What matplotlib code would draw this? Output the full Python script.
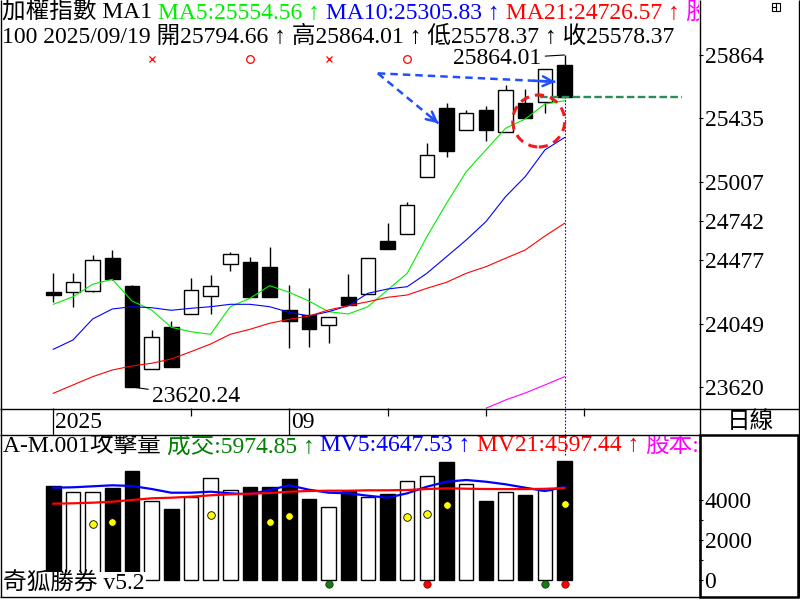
import matplotlib
matplotlib.use('Agg')
import matplotlib.pyplot as plt
from matplotlib.patches import Ellipse, Rectangle
import numpy as np

FONTS = ['Liberation Serif', 'Noto Sans CJK TC']
plt.rcParams['font.family'] = FONTS

# ---------------- data ----------------
opens = [24258.9, 24264.3, 24271.0, 24490.0, 24302.8, 23739.9, 24023.7, 24111.5, 24237.2,
         24449.4, 24465.0, 24431.2, 24140.6, 24104.8, 24037.2, 24226.4, 24246.7, 24606.9,
         24652.1, 25037.4, 25503.6, 25355.0, 25492.2, 25341.5, 25539.5, 25544.2, 25794.66]
highs = [24388.6, 24388.6, 24512.3, 24546.1, 24310.0, 24005.4, 24066.3, 24356.9, 24377.1,
         24532.6, 24496.7, 24564.3, 24309.5, 24287.2, 24095.3, 24381.8, 24490.0, 24730.5,
         24872.5, 25267.1, 25541.5, 25492.2, 25519.2, 25659.1, 25632.1, 25767.2, 25864.01]
lows = [24196.7, 24162.9, 24260.2, 24343.3, 23620.24, 23739.9, 23757.4, 24111.5, 24111.5,
        24406.2, 24230.5, 24230.5, 23881.8, 23888.5, 23919.6, 24174.4, 24246.7, 24550.8,
        24652.1, 25037.4, 25176.6, 25355.0, 25284.7, 25341.5, 25440.1, 25474.0, 25578.37]
closes = [24238.6, 24327.8, 24478.5, 24350.1, 23620.24, 23956.1, 23757.4, 24275.8, 24302.8,
          24517.0, 24230.5, 24230.5, 24068.3, 24014.2, 24091.2, 24174.4, 24490.0, 24550.8,
          24848.1, 25186.0, 25217.1, 25469.9, 25357.0, 25625.3, 25440.1, 25767.2, 25578.37]
ma5 = [24179.1, 24230.5, 24314.3, 24348.1, 24201.4, 24140.6, 24023.7, 23993.9, 23976.4,
       24162.9, 24219.7, 24304.8, 24260.2, 24201.4, 24129.1, 24113.6, 24162.9, 24275.8,
       24388.6, 24636.0, 24861.7, 25075.2, 25221.9, 25368.5, 25431.3, 25532.7, 25554.56]
ma10 = [23875.0, 23937.9, 24079.8, 24147.4, 24162.9, 24156.1, 24138.6, 24152.1, 24162.9,
        24179.1, 24179.1, 24162.9, 24125.1, 24100.0, 24129.1, 24169.7, 24253.5, 24282.5,
        24298.1, 24388.6, 24500.8, 24613.7, 24737.3, 24906.3, 25041.4, 25221.9, 25305.83]
ma21 = [23577.6, 23633.8, 23689.8, 23735.1, 23762.2, 23780.4, 23809.5, 23858.8, 23910.8,
        23976.4, 24010.2, 24050.7, 24077.8, 24100.0, 24140.6, 24169.7, 24196.7, 24226.4,
        24242.0, 24287.3, 24327.8, 24388.6, 24433.2, 24490.0, 24546.0, 24640.0, 24726.57]
cap_line = [np.nan] * 22 + [23476.3, 23532.4, 23579.7, 23633.8, 23689.8]

volumes = [4700, 4385, 4385, 4600, 5450, 3965, 3550, 4135, 5100, 4485, 4665, 4665, 5050,
           4050, 3635, 4435, 4135, 4315, 4935, 5200, 5900, 4785, 3950, 4385, 4250, 4500, 5974.85]
mv5 = [4615, 4635, 4685, 4735, 4700, 4550, 4365, 4365, 4415, 4335, 4285, 4500, 4735, 4515,
       4365, 4335, 4215, 4115, 4335, 4665, 4915, 5000, 4915, 4785, 4615, 4450, 4647.53]
mv21 = [3815, 3835, 3865, 3915, 4000, 4085, 4115, 4165, 4235, 4285, 4315, 4350, 4415, 4450,
        4465, 4465, 4485, 4485, 4500, 4550, 4585, 4565, 4550, 4545, 4545, 4560, 4597.44]

yellow_idx = [2, 3, 8, 11, 12, 18, 19, 20, 26]
yellow_val = [2815, 2900, 3250, 2900, 3215, 3165, 3315, 3750, 3800]
green_dot_idx = [14, 25]
red_dot_idx = [19, 26]
dot_level = -200

sig_idx = [5, 10, 14, 18]
sig_mark = ['x', 'o', 'x', 'o']
sig_level = 25837

price_ticks = [25864, 25435, 25007, 24742, 24477, 24049, 23620]
vol_ticks = [0, 2000, 4000]
vol_minor = [1000, 3000]
date_major_idx = [0, 12]
date_major_lab = ['2025', '09']
date_minor_idx = [7, 17, 22, 27]

n = len(closes)
idx = np.arange(n)
XLIM = (-2.711, 32.84)

fig = plt.figure(figsize=(8, 6), dpi=100)
fig.patch.set_facecolor('white')

ax = fig.add_axes([0, 192 / 600, 699 / 800, 408 / 600])
axd = fig.add_axes([0, 165 / 600, 699 / 800, 27 / 600])
axv = fig.add_axes([0, 3 / 600, 699 / 800, 162 / 600])
ov = fig.add_axes([0, 0, 1, 1], zorder=10)
ov.set_xlim(0, 800)
ov.set_ylim(600, 0)
ov.axis('off')
ov.patch.set_alpha(0)

for a in (ax, axd, axv):
    a.set_xlim(*XLIM)
    for s in a.spines.values():
        s.set_visible(False)
    a.set_xticks([])

# ---------------- main price panel ----------------
ax.set_ylim(23478.3, 26235.6)
o = np.array(opens); c = np.array(closes)
up = c >= o
ax.vlines(idx, lows, highs, color='black', lw=1.0, zorder=3)
ax.bar(idx, np.abs(c - o) + 1e-6, bottom=np.minimum(o, c), width=0.74,
       color=np.where(up, 'white', 'black'), edgecolor='black', lw=1.0, zorder=4)
ax.plot(idx, ma5, color='#00ee00', lw=0.8, zorder=5)
ax.plot(idx, ma10, color='#0000ff', lw=0.8, zorder=5)
ax.plot(idx, ma21, color='#ff0000', lw=0.8, zorder=5)
ax.plot(idx, cap_line, color='#ff00ff', lw=0.8, zorder=5)

for i, m in zip(sig_idx, sig_mark):
    if m == 'x':
        ax.plot(i, sig_level, marker='x', color='#ff0000', ms=5, mew=0.9, ls='none')
    else:
        ax.plot(i, sig_level, marker='o', mfc='none', mec='#ff0000', ms=5.5, mew=0.9, ls='none')

# cursor line
ax.vlines(n - 1, 23478.3, closes[-1], color='#0000ff', lw=0.8, linestyles=(0, (1.5, 1.5)), zorder=2)
axd.vlines(n - 1, 0, 1, color='#0000ff', lw=0.8, linestyles=(0, (1.5, 1.5)))
axv.vlines(n - 1, 6250, 7250, color='#0000ff', lw=0.8, linestyles=(0, (1.5, 1.5)), zorder=10)

# green dashed close line
ax.hlines(closes[-1], 24.76, 31.97, colors='#2e8b57', linestyles=(0, (3.2, 1.4)), lw=1.7, zorder=6)

# blue dashed arrows
start = (16.505, 25740)
for end in [(19.59, 25402), (25.53, 25683)]:
    ax.plot([start[0], end[0]], [start[1], end[1]], color='#1f4fff', lw=1.8,
            ls=(0, (3, 2)), zorder=7)
    pre = (end[0] - (end[0] - start[0]) * 0.12, end[1] - (end[1] - start[1]) * 0.12)
    ax.annotate('', xy=end, xytext=pre,
                arrowprops=dict(arrowstyle='->,head_length=0.7,head_width=0.35',
                                color='#1f4fff', lw=1.8, shrinkA=0, shrinkB=0), zorder=7)

# red dashed circle
ax.add_patch(Ellipse((24.69, 25418), 2.646, 351.4, fill=False, edgecolor='#ee1c1c',
                     lw=2.2, ls=(0, (3, 2)), zorder=7))

# value annotations
ax.annotate('25864.01', xy=(n - 1, highs[-1]), xytext=(24.81, 25837), ha='right', va='center',
            fontsize=17, arrowprops=dict(arrowstyle='-', lw=0.8, color='black',
                                         shrinkA=1, shrinkB=0), zorder=8)
ax.annotate('23620.24', xy=(4, lows[4]), xytext=(5.04, 23559), ha='left', va='center',
            fontsize=17, arrowprops=dict(arrowstyle='-', lw=0.8, color='black',
                                         shrinkA=1, shrinkB=0), zorder=8)

ax.yaxis.tick_right()
ax.set_yticks(price_ticks)
ax.set_yticklabels([str(t) for t in price_ticks])
ax.tick_params(axis='y', direction='out', length=3, width=0.8, pad=1, labelsize=17)

# ---------------- date strip ----------------
axd.set_ylim(0, 1)
axd.set_yticks([])
axd.vlines(date_major_idx, 0, 1, color='black', lw=0.9)
axd.vlines(date_minor_idx, 1 - 8 / 27, 1, color='black', lw=0.9)
for i, lab in zip(date_major_idx, date_major_lab):
    axd.annotate(lab, xy=(i, 0.45), xytext=(2, 0), textcoords='offset pixels',
                 ha='left', va='center', fontsize=17)

# ---------------- volume panel ----------------
axv.set_ylim(-850, 7250)
axv.bar(idx, volumes, width=0.74, color=np.where(up, 'white', 'black'),
        edgecolor='black', lw=1.0, zorder=3)
axv.plot(idx, mv5, color='#0000ff', lw=1.6, zorder=4)
axv.plot(idx, mv21, color='#ff0000', lw=1.6, zorder=4)
axv.scatter(yellow_idx, yellow_val, s=30, color='#ffff00', edgecolor='black', lw=0.6, zorder=5)
axv.scatter(green_dot_idx, [dot_level] * len(green_dot_idx), s=28, color='#1a7a1a',
            edgecolor='#0a3a0a', lw=0.6, zorder=5)
axv.scatter(red_dot_idx, [dot_level] * len(red_dot_idx), s=28, color='#ff0000',
            edgecolor='#7a0a0a', lw=0.6, zorder=5)
axv.yaxis.tick_right()
axv.set_yticks(vol_ticks)
axv.set_yticklabels([str(t) for t in vol_ticks])
axv.set_yticks(vol_minor, minor=True)
axv.tick_params(axis='y', which='major', direction='out', length=3, width=0.8, pad=1, labelsize=17)
axv.tick_params(axis='y', which='minor', direction='out', length=3, width=0.8)

axv.text(3, 584, '奇狐勝券 v5.2', transform=ov.transData, ha='left', va='center', fontsize=17,
         bbox=dict(facecolor='white', edgecolor='none', pad=1), zorder=8, clip_on=True)

# ---------------- headers ----------------
fig.canvas.draw()
renderer = fig.canvas.get_renderer()


def seq_text(host, x, y, parts, size=17):
    for s, col in parts:
        t = host.text(x, y, s, color=col, fontsize=size, ha='left', va='center',
                      transform=ov.transData, clip_on=True, zorder=9)
        x += t.get_window_extent(renderer=renderer).width


seq_text(ax, 2, 13, [('加權指數 MA1 ', 'black'), ('MA5:25554.56 ↑ ', '#00ee00'),
                     ('MA10:25305.83 ↑ ', '#0000ff'), ('MA21:24726.57 ↑ ', '#ff0000'),
                     ('股本:0.00', '#ff00ff')])
seq_text(ax, 2, 37, [('100 2025/09/19 開25794.66 ↑ 高25864.01 ↑ 低25578.37 ↑ 收25578.37', 'black')])
seq_text(axv, 3, 446, [('A-M.001攻擊量 ', 'black'), ('成交:5974.85 ↑ ', '#008000'),
                       ('MV5:4647.53 ↑ ', '#0000ff'), ('MV21:4597.44 ↑ ', '#ff0000'),
                       ('股本:0.00', '#ff00ff')])

ov.text(750, 422, '日線', ha='center', va='center', fontsize=17)

# ---------------- frame lines ----------------
k = dict(color='black', lw=1.0, solid_capstyle='butt')
ov.plot([0.5, 0.5], [0, 597], **k)
ov.plot([699.5, 699.5], [0, 597], **k)
ov.plot([798.5, 798.5], [0, 597], **k)
ov.plot([0, 800], [408.5, 408.5], **k)
ov.plot([0, 700], [434.5, 434.5], **k)
ov.plot([0, 700], [596.5, 596.5], **k)
ov.add_patch(Rectangle((699.5, 434.5), 98.5, 162, fill=False, edgecolor='black', lw=1.8))
# small window icon
ov.add_patch(Rectangle((771.5, 2.5), 8, 8, fill=False, edgecolor='black', lw=0.8))
ov.plot([775.5, 775.5], [2.5, 10.5], color='black', lw=0.8)
ov.plot([771.5, 775.5], [6.5, 6.5], color='black', lw=0.8)

fig.savefig('out.png', dpi=100, facecolor='white')
